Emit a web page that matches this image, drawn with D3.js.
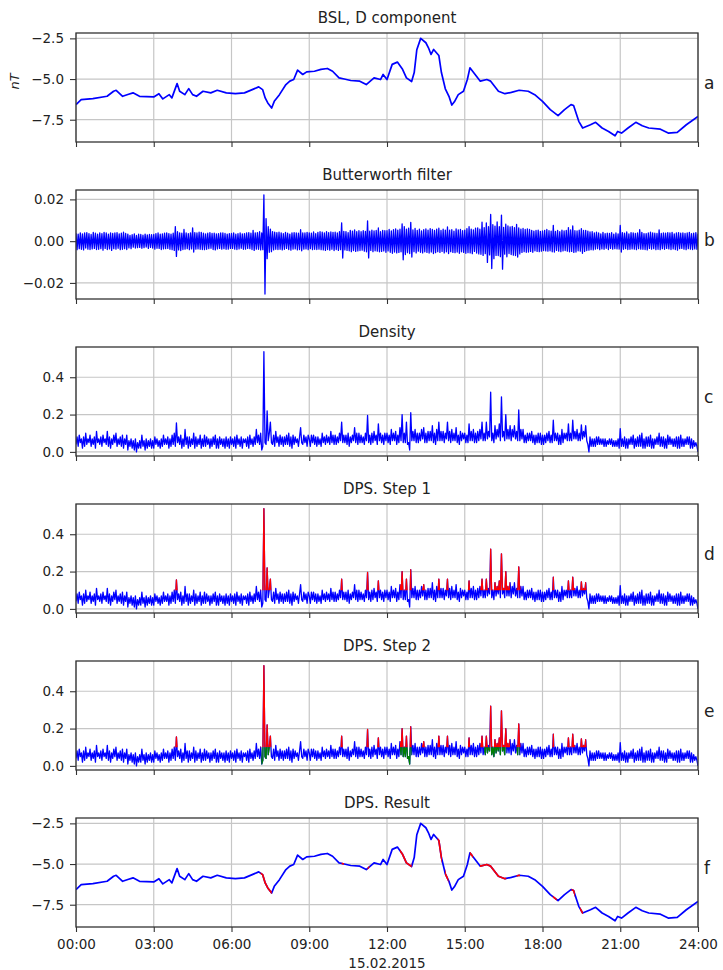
<!DOCTYPE html>
<html>
<head>
<meta charset="utf-8">
<style>
body { margin: 0; background: #fff; }
svg { font-family: "DejaVu Sans", sans-serif; }
.grid { stroke: #c6c6c6; stroke-width: 1.2; }
.frame { fill: none; stroke: #333; stroke-width: 1.3; }
.axis path { display: none; }
.axis line { stroke: #333; stroke-width: 1.1; }
.axis text { font-size: 13.5px; fill: #222; font-family: "DejaVu Sans", sans-serif; }
</style>
</head>
<body>
<script src="https://cdn.jsdelivr.net/npm/d3@7"></script>
<script>
var width = 723,
    height = 970,
    left = 76,
    right = 698,
    panelTop = 33,
    panelGap = 157,
    panelH = 109;

var titles = ["BSL, D component", "Butterworth filter", "Density", "DPS. Step 1", "DPS. Step 2", "DPS. Result"];
var letters = ["a", "b", "c", "d", "e", "f"];
var xTicks = [0, 3, 6, 9, 12, 15, 18, 21, 24];
var dTicks = [-7.5, -5.0, -2.5];
var butterTicks = [-0.02, 0, 0.02];
var densityTicks = [0, 0.2, 0.4];

// D component (nT): hour of day / value
var dHours = [0, 0.2, 0.65, 1.2, 1.45, 1.55, 1.8, 2.0, 2.2, 2.45, 3.0, 3.2, 3.35, 3.6, 3.7, 3.9, 4.0, 4.2, 4.35, 4.5,
  4.65, 4.9, 5.2, 5.45, 5.8, 6.15, 6.5, 6.8, 7.05, 7.2, 7.3, 7.4, 7.55, 7.65, 7.85, 8.1, 8.25, 8.4, 8.55, 8.75,
  8.9, 9.2, 9.45, 9.7, 9.9, 10.15, 10.35, 10.6, 10.95, 11.2, 11.5, 11.75, 11.85, 12.0, 12.2, 12.4, 12.6, 12.75, 12.95, 13.05,
  13.15, 13.3, 13.5, 13.6, 13.7, 13.8, 14.0, 14.1, 14.25, 14.4, 14.5, 14.6, 14.75, 14.95, 15.1, 15.2, 15.4, 15.6, 15.85, 16.0,
  16.3, 16.55, 16.8, 17.1, 17.45, 17.7, 18.0, 18.3, 18.6, 18.85, 19.1, 19.2, 19.4, 19.55, 19.85, 20.05, 20.3, 20.55, 20.8, 20.9,
  21.05, 21.3, 21.6, 21.85, 22.1, 22.55, 22.85, 23.2, 23.55, 24.0];
var dValues = [-6.57, -6.27, -6.2, -6.06, -5.75, -5.69, -6.06, -5.95, -5.85, -6.06, -6.1, -5.9, -6.22, -5.96, -6.16, -5.28, -5.75, -5.96, -5.59, -5.96,
  -6.06, -5.75, -5.85, -5.69, -5.85, -5.9, -5.85, -5.65, -5.48, -5.65, -6.16, -6.47, -6.78, -6.37, -5.96, -5.34, -5.13, -5.03, -4.45, -4.72,
  -4.56, -4.52, -4.41, -4.35, -4.52, -4.93, -5.0, -5.09, -5.13, -5.34, -4.93, -5.03, -4.72, -5.03, -4.1, -3.96, -4.4, -4.93, -5.15, -4.6,
  -3.2, -2.5, -2.77, -3.08, -3.49, -3.18, -3.55, -4.6, -5.6, -6.1, -6.6, -6.4, -5.96, -5.75, -5.03, -4.31, -4.72, -5.13, -5.03, -5.13,
  -5.75, -5.9, -5.82, -5.69, -5.75, -5.96, -6.37, -6.88, -7.25, -6.88, -6.57, -6.63, -7.6, -8.01, -7.81, -7.66, -8.01, -8.22, -8.49, -8.22,
  -8.32, -8.01, -7.66, -7.87, -8.01, -8.08, -8.32, -8.28, -7.81, -7.3];

// Butterworth filter output, 2.5 minute steps (24 per hour), units of 1e-3
var butterMilli = [
  3.8, -4.1, 3.4, -3.6, 4.0, -3.9, 3.5, -4.2, 3.9, -3.3, 4.1, -3.8, 3.6, -4.0, 3.2, -3.7, 4.2, -3.5, 3.8, -4.0, 3.3, -3.9, 4.0, -3.6,
  3.6, -4.3, 4.2, -3.5, 3.9, -4.0, 3.3, -3.7, 4.0, -4.4, 3.7, -3.6, 3.9, -3.8, 4.1, -3.4, 3.5, -4.1, 3.8, -3.9, 4.3, -3.6, 3.7, -4.0,
  3.4, -3.2, 2.8, -3.6, 3.1, -2.9, 3.5, -3.3, 2.7, -3.1, 3.3, -3.0, 3.2, -3.4, 2.9, -3.1, 3.4, -2.8, 3.0, -3.5, 3.2, -3.0, 3.1, -3.3,
  3.2, -3.8, 3.6, -3.4, 3.9, -3.5, 3.3, -4.0, 3.5, -3.7, 3.8, -3.6, 4.0, -3.5, 3.6, -3.9, 3.4, -4.1, 3.8, -4.4, 7.0, -7.3, 4.5, -4.2,
  4.0, -4.5, 3.8, -4.0, 5.6, -3.8, 3.9, -3.6, 3.6, -4.1, 4.0, -3.7, 6.3, -5.2, 4.1, -3.8, 3.9, -3.7, 4.3, -3.9, 4.2, -4.0, 3.8, -4.1,
  3.5, -3.9, 3.8, -3.6, 4.1, -3.4, 3.7, -4.0, 3.8, -4.2, 3.5, -3.7, 3.6, -3.5, 3.9, -3.8, 4.0, -3.6, 3.7, -3.9, 3.4, -3.8, 3.6, -3.5,
  3.7, -3.5, 3.9, -3.8, 3.3, -4.0, 3.6, -3.7, 3.9, -3.4, 3.5, -3.9, 3.6, -3.8, 4.0, -3.5, 4.1, -3.6, 3.8, -4.0, 5.2, -4.4, 4.0, -3.8,
  4.1, -3.9, 4.5, -4.2, 3.9, -4.1, 22.2, -25.3, 10.8, -8.4, 6.9, -5.3, 5.8, -5.0, 4.6, -4.2, 4.3, -3.9, 4.1, -4.0, 4.3, -3.9, 4.0, -4.2,
  3.6, -3.9, 4.2, -3.5, 3.8, -4.0, 3.4, -4.3, 4.0, -3.8, 4.1, -3.7, 3.9, -4.2, 3.8, -4.0, 5.5, -4.6, 4.0, -3.8, 3.9, -3.7, 4.2, -4.1,
  4.0, -3.6, 3.8, -4.1, 4.4, -3.9, 3.6, -4.0, 4.2, -3.8, 4.5, -4.1, 4.3, -4.2, 3.9, -4.4, 4.6, -4.0, 4.1, -4.3, 4.4, -3.9, 4.2, -4.5,
  4.3, -4.0, 3.9, -4.4, 4.6, -4.1, 8.8, -8.1, 4.7, -4.2, 4.6, -4.4, 4.1, -4.6, 5.2, -5.0, 4.8, -4.5, 5.4, -4.9, 4.6, -4.7, 5.0, -4.5,
  4.5, -4.3, 5.0, -4.8, 4.7, -5.1, 9.7, -8.0, 4.8, -4.4, 5.3, -5.0, 4.9, -4.6, 5.1, -4.8, 6.3, -5.1, 4.6, -4.9, 5.2, -4.7, 5.0, -5.3,
  5.0, -4.7, 5.6, -5.3, 4.9, -5.8, 5.5, -5.2, 5.9, -5.6, 5.3, -5.4, 5.7, -5.1, 8.3, -8.9, 7.0, -6.4, 5.8, -5.5, 6.2, -5.9, 9.0, -7.6,
  5.4, -5.0, 6.1, -5.6, 5.2, -4.8, 5.8, -5.3, 4.9, -5.6, 5.5, -5.1, 5.9, -5.4, 5.3, -5.7, 6.0, -5.2, 5.6, -5.9, 5.1, -5.5, 5.8, -5.0,
  6.2, -5.4, 5.1, -4.9, 5.7, -5.6, 5.3, -5.1, 6.8, -5.9, 5.3, -5.0, 5.5, -5.4, 4.8, -5.5, 5.9, -5.2, 5.4, -5.8, 5.6, -5.1, 5.0, -5.4,
  5.3, -5.8, 6.0, -5.5, 6.9, -5.6, 5.7, -6.0, 5.4, -4.9, 6.2, -5.7, 6.4, -6.1, 5.8, -6.3, 9.1, -6.8, 6.5, -6.0, 8.7, -10.2, 7.0, -6.6,
  12.8, -13.1, 7.9, -8.4, 7.2, -6.8, 9.2, -6.9, 7.0, -7.4, 12.5, -13.4, 6.6, -6.2, 8.1, -7.5, 7.3, -5.9, 6.8, -6.4, 7.1, -6.7, 6.5, -6.9,
  8.0, -7.6, 6.4, -6.1, 5.8, -5.4, 6.1, -5.0, 5.6, -5.3, 5.9, -5.2, 5.6, -4.9, 5.2, -5.3, 4.8, -4.6, 5.1, -4.9, 5.3, -5.0, 4.7, -4.8,
  4.9, -4.5, 5.2, -4.7, 5.6, -4.8, 5.0, -4.6, 4.8, -5.1, 7.6, -5.2, 4.7, -4.4, 5.1, -4.8, 4.6, -5.0, 5.3, -4.7, 4.9, -4.5, 5.2, -4.8,
  6.5, -5.1, 5.4, -4.9, 7.3, -5.4, 5.0, -5.2, 4.9, -4.6, 5.3, -4.8, 6.0, -5.8, 5.1, -4.9, 5.2, -4.5, 4.8, -4.3, 4.4, -4.1, 4.5, -4.2,
  4.0, -3.8, 4.3, -3.6, 3.9, -4.1, 3.5, -3.7, 4.2, -3.9, 3.6, -3.4, 3.8, -4.0, 3.7, -3.5, 4.1, -3.8, 3.4, -3.6, 3.9, -3.7, 3.5, -3.8,
  7.5, -5.2, 4.1, -3.9, 3.8, -3.6, 4.4, -4.0, 3.5, -3.9, 4.1, -3.7, 4.0, -3.8, 3.7, -4.1, 3.9, -3.6, 5.5, -3.8, 4.2, -3.9, 3.6, -4.0,
  3.6, -4.2, 3.9, -3.5, 4.3, -3.8, 4.0, -3.6, 3.8, -4.1, 3.7, -3.9, 5.4, -4.1, 3.7, -3.6, 4.0, -3.9, 3.8, -3.5, 4.1, -3.7, 3.9, -4.0,
  4.2, -3.7, 3.5, -4.0, 3.9, -4.3, 4.1, -3.6, 3.8, -3.5, 4.0, -3.8, 3.7, -4.1, 3.9, -3.6, 4.2, -3.8, 3.6, -4.0, 3.8, -3.7, 4.1, -3.9,
  3.6];

// density, 2.5 minute steps (24 per hour)
var density = [
  .04, .08, .03, .09, .05, .07, .02, .08, .03, .10, .04, .07, .05, .09, .03, .07, .04, .08, .02, .11, .05, .07, .04, .08,
  .03, .09, .05, .07, .04, .11, .03, .08, .02, .07, .04, .09, .05, .10, .03, .07, .04, .08, .03, .09, .02, .07, .04, .09,
  .01, .06, .03, .07, .02, .06, .01, .07, .00, .05, .02, .06, .02, .09, .03, .06, .01, .07, .02, .06, .03, .07, .02, .06,
  .02, .08, .04, .07, .03, .06, .02, .07, .03, .09, .04, .07, .04, .08, .02, .07, .03, .09, .04, .10, .03, .155, .05, .08,
  .04, .09, .02, .07, .03, .12, .04, .08, .02, .08, .03, .07, .04, .10, .02, .08, .03, .07, .04, .09, .02, .07, .03, .09,
  .03, .08, .04, .07, .02, .07, .03, .08, .04, .09, .02, .07, .02, .08, .04, .07, .03, .07, .02, .08, .03, .07, .02, .08,
  .04, .07, .03, .08, .02, .09, .04, .07, .03, .08, .02, .07, .05, .07, .03, .08, .02, .09, .04, .07, .03, .08, .04, .12,
  .05, .09, .04, .10, .01, .03, .537, .05, .04, .22, .06, .10, .16, .05, .04, .09, .03, .11, .05, .08, .03, .09, .04, .08,
  .03, .08, .04, .09, .04, .10, .03, .08, .02, .09, .04, .08, .05, .07, .03, .08, .13, .05, .04, .09, .05, .08, .03, .09,
  .07, .03, .09, .05, .09, .04, .08, .03, .08, .04, .07, .03, .10, .05, .08, .04, .09, .05, .08, .04, .11, .05, .09, .04,
  .09, .04, .08, .05, .10, .06, .16, .05, .09, .05, .09, .04, .10, .03, .08, .05, .09, .06, .13, .05, .10, .04, .10, .05,
  .09, .05, .08, .04, .10, .06, .195, .05, .09, .04, .10, .05, .11, .06, .09, .04, .15, .06, .10, .05, .09, .04, .10, .06,
  .10, .05, .09, .04, .12, .06, .10, .06, .11, .04, .09, .05, .13, .06, .20, .05, .10, .05, .16, .04, .05, .01, .21, .06,
  .11, .06, .12, .05, .10, .05, .10, .06, .12, .07, .13, .05, .10, .05, .11, .06, .11, .06, .14, .05, .10, .04, .12, .06,
  .16, .06, .11, .06, .11, .05, .10, .07, .16, .06, .11, .05, .12, .06, .10, .06, .13, .05, .09, .04, .11, .06, .10, .07,
  .10, .05, .09, .05, .15, .06, .11, .06, .12, .05, .10, .05, .11, .06, .12, .07, .16, .06, .10, .06, .16, .07, .11, .08,
  .32, .06, .10, .05, .14, .07, .12, .08, .15, .06, .295, .08, .11, .06, .20, .07, .12, .07, .14, .06, .12, .08, .14, .07,
  .11, .06, .225, .06, .12, .07, .12, .05, .09, .05, .10, .06, .10, .06, .11, .05, .09, .04, .09, .05, .10, .05, .10, .04,
  .09, .04, .09, .05, .10, .06, .11, .05, .09, .05, .17, .06, .10, .06, .10, .04, .09, .04, .12, .05, .10, .07, .10, .06,
  .15, .06, .10, .06, .17, .07, .11, .07, .12, .06, .10, .06, .145, .07, .11, .08, .14, .06, .04, .00, .08, .03, .07, .03,
  .07, .03, .08, .04, .08, .04, .07, .04, .07, .03, .07, .03, .06, .04, .07, .04, .07, .03, .06, .03, .06, .03, .07, .02,
  .125, .03, .07, .03, .08, .02, .07, .02, .07, .04, .08, .04, .09, .02, .07, .03, .08, .03, .09, .03, .10, .02, .07, .02,
  .08, .03, .08, .03, .09, .02, .07, .02, .07, .04, .08, .04, .10, .03, .08, .03, .08, .02, .07, .02, .09, .04, .08, .04,
  .07, .03, .07, .03, .08, .02, .08, .02, .09, .03, .07, .03, .07, .04, .08, .04, .08, .02, .07, .02, .06, .03, .05, .03,
  .00];

var threshold = 0.1;

// flagged time spans in hours
var stepRed = [[3.75, 3.95], [7.1, 7.55], [10.2, 10.3], [11.2, 11.3], [11.6, 11.72], [12.5, 12.95], [13.35, 13.5],
  [13.95, 14.05], [14.28, 14.38], [15.1, 15.2], [15.6, 15.9], [15.95, 16.75], [17.0, 17.15],
  [18.38, 18.45], [18.95, 19.25], [19.45, 19.7]];
var stepGreen = [[7.15, 7.5], [12.5, 12.95], [15.75, 16.6], [17.0, 17.12]];
var resultRed = [[7.12, 7.55], [10.25, 10.34], [11.25, 11.32], [12.5, 12.95], [13.95, 14.12], [14.24, 14.37],
  [15.2, 15.32], [15.59, 16.6], [17.0, 17.13], [18.4, 18.55], [19.12, 19.25], [19.45, 19.56]];

var dSeries = dHours.map(function(h, i) { return [h, dValues[i]]; });
var butterSeries = butterMilli.map(function(v, i) { return [i / 24, v / 1000]; });
var densitySeries = density.map(function(v, i) { return [i / 24, v]; });

var svg = d3.select("body").append("svg")
    .attr("width", width)
    .attr("height", height);

var defs = svg.append("defs");

var x = d3.scaleLinear().domain([0, 24]).range([left, right]);

function hourLabel(h) { return (h < 10 ? "0" : "") + h + ":00"; }

function panel(i, domain, ticks) {
  var top = panelTop + i * panelGap;
  var y = d3.scaleLinear().domain(domain).range([top + panelH, top]);

  defs.append("clipPath").attr("id", "plot" + i)
    .append("rect").attr("x", left).attr("y", top).attr("width", right - left).attr("height", panelH);

  var g = svg.append("g");

  g.selectAll(".vg").data(xTicks).enter().append("line")
      .attr("class", "grid")
      .attr("x1", x).attr("x2", x)
      .attr("y1", top).attr("y2", top + panelH);
  g.selectAll(".hg").data(ticks).enter().append("line")
      .attr("class", "grid")
      .attr("x1", left).attr("x2", right)
      .attr("y1", y).attr("y2", y);

  svg.append("text")
      .attr("x", (left + right) / 2)
      .attr("y", top - 10)
      .attr("text-anchor", "middle")
      .style("font-size", "15px")
      .style("fill", "#222")
      .text(titles[i]);

  svg.append("text")
      .attr("x", right + 6)
      .attr("y", top + panelH / 2 - 4)
      .attr("dy", "0.35em")
      .style("font-size", "17px")
      .style("fill", "#222")
      .text(letters[i]);

  var lines = svg.append("g").attr("clip-path", "url(#plot" + i + ")");

  return { top: top, y: y, lines: lines };
}

function finish(p, ticks, fmt, labels) {
  svg.append("rect").attr("class", "frame")
      .attr("x", left).attr("y", p.top).attr("width", right - left).attr("height", panelH);

  svg.append("g").attr("class", "axis")
      .attr("transform", "translate(" + left + ",0)")
      .call(d3.axisLeft(p.y).tickValues(ticks).tickFormat(fmt).tickSize(6).tickPadding(6));

  svg.append("g").attr("class", "axis")
      .attr("transform", "translate(0," + (p.top + panelH) + ")")
      .call(d3.axisBottom(x).tickValues(xTicks).tickSize(5).tickPadding(7)
        .tickFormat(labels ? hourLabel : ""));
}

function drawLine(p, data, color, w, clipId) {
  var line = d3.line()
      .x(function(d) { return x(d[0]); })
      .y(function(d) { return p.y(d[1]); });
  var target = p.lines;
  if (clipId) target = target.append("g").attr("clip-path", "url(#" + clipId + ")");
  target.append("path")
      .datum(data)
      .attr("d", line)
      .attr("fill", "none")
      .attr("stroke", color)
      .attr("stroke-width", w)
      .attr("stroke-linejoin", "round");
}

// clip made of time spans, limited to a value band
function spanClip(id, p, spans, lo, hi) {
  var c = defs.append("clipPath").attr("id", id);
  c.selectAll("rect").data(spans).enter().append("rect")
      .attr("x", function(d) { return x(d[0]); })
      .attr("width", function(d) { return x(d[1]) - x(d[0]); })
      .attr("y", p.y(hi))
      .attr("height", p.y(lo) - p.y(hi));
}

var dDomain = [-8.87, -2.17],
    butterDomain = [-0.0277, 0.0245],
    densityDomain = [-0.022, 0.562];
var fmt1 = d3.format(".1f"), fmt2 = d3.format(".2f");
var noiseW = 1.3;

// a
var pa = panel(0, dDomain, dTicks);
drawLine(pa, dSeries, "#0000ff", 1.7);
finish(pa, dTicks, fmt1, false);
svg.append("text")
    .attr("transform", "translate(19," + (pa.top + panelH / 2 - 6) + ") rotate(-90)")
    .attr("text-anchor", "middle")
    .style("font-size", "13px")
    .style("font-style", "italic")
    .style("fill", "#222")
    .text("nT");

// b
var pb = panel(1, butterDomain, butterTicks);
drawLine(pb, butterSeries, "#0000ff", noiseW);
finish(pb, butterTicks, fmt2, false);

// c
var pc = panel(2, densityDomain, densityTicks);
drawLine(pc, densitySeries, "#0000ff", noiseW);
finish(pc, densityTicks, fmt1, false);

// d
var pd = panel(3, densityDomain, densityTicks);
drawLine(pd, densitySeries, "#0000ff", noiseW);
spanClip("redD", pd, stepRed, threshold, densityDomain[1]);
drawLine(pd, densitySeries, "#ff0000", noiseW, "redD");
finish(pd, densityTicks, fmt1, false);

// e
var pe = panel(4, densityDomain, densityTicks);
drawLine(pe, densitySeries, "#0000ff", noiseW);
spanClip("redE", pe, stepRed, threshold, densityDomain[1]);
drawLine(pe, densitySeries, "#ff0000", noiseW, "redE");
spanClip("greenE", pe, stepGreen, densityDomain[0], threshold);
drawLine(pe, densitySeries, "#008000", noiseW, "greenE");
finish(pe, densityTicks, fmt1, false);

// f
var pf = panel(5, dDomain, dTicks);
drawLine(pf, dSeries, "#0000ff", 1.7);
spanClip("redF", pf, resultRed, dDomain[0], dDomain[1]);
drawLine(pf, dSeries, "#ff0000", 1.7, "redF");
finish(pf, dTicks, fmt1, true);

svg.append("text")
    .attr("x", (left + right) / 2)
    .attr("y", 968)
    .attr("text-anchor", "middle")
    .style("font-size", "13.5px")
    .style("fill", "#222")
    .text("15.02.2015");
</script>
</body>
</html>
